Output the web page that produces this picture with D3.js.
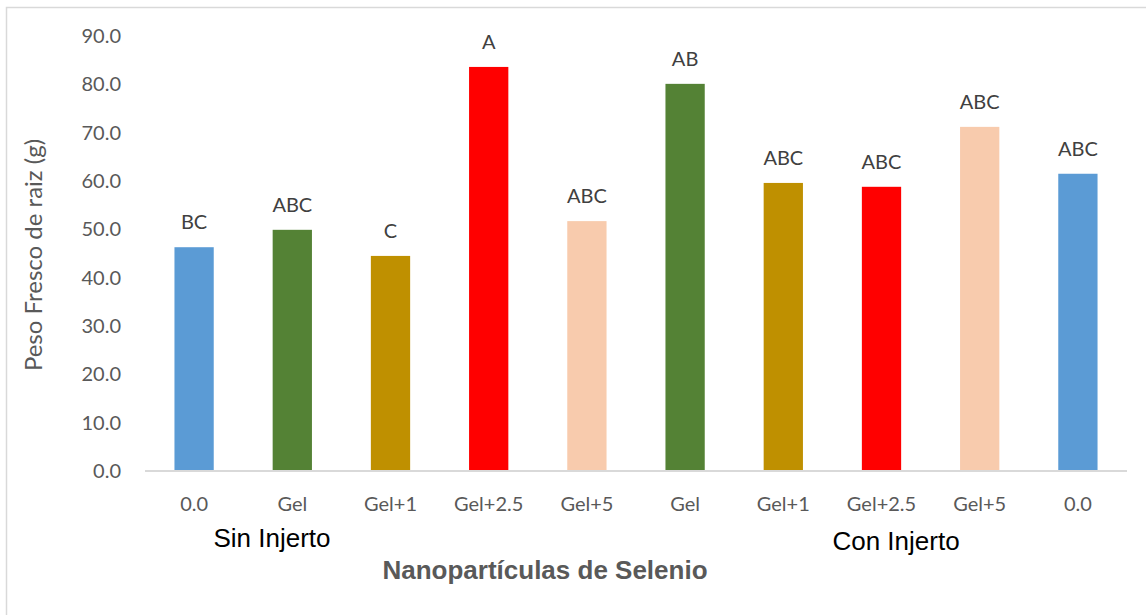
<!DOCTYPE html>
<html>
<head>
<meta charset="utf-8">
<script src="https://cdn.jsdelivr.net/npm/d3@7"></script>
<style>
  html, body { margin: 0; padding: 0; background: #fff; }
  svg { display: block; }
</style>
</head>
<body>
<svg id="chart" width="1146" height="615"></svg>
<script>
// Root fresh weight by selenium nanoparticle treatment
const categories = ["0.0", "Gel", "Gel+1", "Gel+2.5", "Gel+5", "Gel", "Gel+1", "Gel+2.5", "Gel+5", "0.0"];
const values = [46.3, 49.9, 44.5, 83.6, 51.7, 80.1, 59.6, 58.8, 71.2, 61.5];
const letters = ["BC", "ABC", "C", "A", "ABC", "AB", "ABC", "ABC", "ABC", "ABC"];
const colors = ["#5b9bd5", "#548235", "#bf9000", "#ff0000", "#f8cbad", "#548235", "#bf9000", "#ff0000", "#f8cbad", "#5b9bd5"];
const yTicks = [0, 10, 20, 30, 40, 50, 60, 70, 80, 90];
const groups = [{ label: "Sin Injerto", cx: 272, base: 547 }, { label: "Con Injerto", cx: 896, base: 550 }];

const svg = d3.select("#chart");
const tickFont = "Lato, 'Open Sans', sans-serif";
const arial = "Arial, 'Liberation Sans', sans-serif";

// outer chart frame
svg.append("rect")
  .attr("x", 6.5).attr("y", 7.5)
  .attr("width", 1160).attr("height", 640)
  .attr("fill", "none").attr("stroke", "#d9d9d9").attr("stroke-width", 1.5);

const plot = { left: 145, right: 1127, top: 36, bottom: 471 };

const x = d3.scaleBand()
  .domain(d3.range(categories.length))
  .range([plot.left, plot.right])
  .paddingInner(0.6)
  .paddingOuter(0.3);

const y = d3.scaleLinear().domain([0, 90]).range([plot.bottom, plot.top]);

// y axis tick labels
const yAxis = d3.axisLeft(y).tickValues(yTicks).tickFormat(d3.format(".1f")).tickSize(0).tickPadding(0);
const gy = svg.append("g").attr("transform", `translate(${plot.left - 24},0)`).call(yAxis);
gy.select(".domain").remove();
gy.selectAll("text")
  .attr("font-family", tickFont).attr("font-size", 20).attr("fill", "#595959");

// bars
svg.append("g").selectAll("rect")
  .data(values)
  .join("rect")
  .attr("x", (d, i) => x(i))
  .attr("y", d => y(d))
  .attr("width", x.bandwidth())
  .attr("height", d => y(0) - y(d))
  .attr("fill", (d, i) => colors[i]);

// significance letters above bars
svg.append("g").selectAll("text")
  .data(values)
  .join("text")
  .attr("x", (d, i) => x(i) + x.bandwidth() / 2)
  .attr("y", d => y(d) - 18)
  .attr("text-anchor", "middle")
  .attr("font-family", tickFont).attr("font-size", 20).attr("fill", "#404040")
  .text((d, i) => letters[i]);

// x axis baseline and category labels
const xAxis = d3.axisBottom(x).tickFormat(i => categories[i]).tickSize(0);
const gx = svg.append("g").attr("transform", `translate(0,${plot.bottom})`).call(xAxis);
gx.select(".domain").attr("stroke", "#d9d9d9").attr("stroke-width", 2)
  .attr("d", `M${plot.left},0H${plot.right}`);
gx.selectAll("text")
  .attr("y", 40).attr("dy", 0)
  .attr("font-family", tickFont).attr("font-size", 20).attr("fill", "#595959");

// group labels
svg.append("g").selectAll("text")
  .data(groups)
  .join("text")
  .attr("x", g => g.cx)
  .attr("y", g => g.base)
  .attr("text-anchor", "middle")
  .attr("font-family", arial).attr("font-size", 26).attr("fill", "#000")
  .text(g => g.label);

// axis titles
svg.append("text")
  .attr("x", 545).attr("y", 579)
  .attr("text-anchor", "middle")
  .attr("font-family", arial).attr("font-size", 26)
  .attr("font-weight", "bold").attr("fill", "#595959")
  .text("Nanopartículas de Selenio");

svg.append("text")
  .attr("transform", "translate(42,255) rotate(-90)")
  .attr("text-anchor", "middle")
  .attr("font-family", tickFont).attr("font-size", 24).attr("fill", "#595959")
  .text("Peso Fresco de raiz (g)");
</script>
</body>
</html>
